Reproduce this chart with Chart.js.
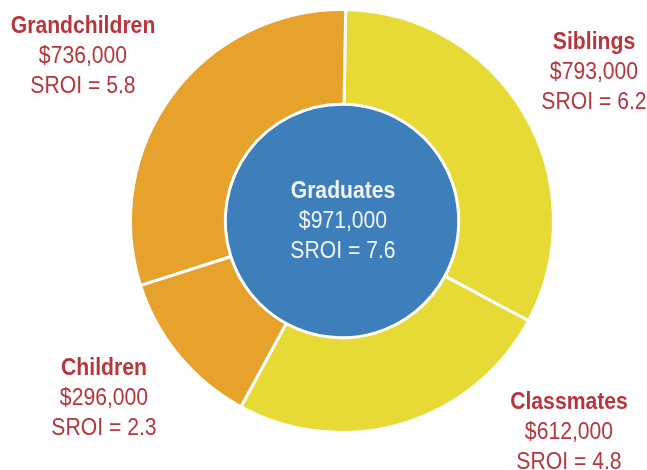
<!DOCTYPE html>
<html>
<head>
<meta charset="utf-8">
<script src="https://cdn.jsdelivr.net/npm/chart.js@4"></script>
<style>
  html, body { margin: 0; padding: 0; background: #fff; }
  #wrap { width: 647px; height: 470px; }
</style>
</head>
<body>
<div id="wrap"><canvas id="sroiChart"></canvas></div>
<script>
// outer ring groups, clockwise from 12 o'clock
const groups = ["Siblings", "Classmates", "Children", "Grandchildren"];
const groupValues = [793000, 612000, 296000, 736000];
const groupSroi = [6.2, 4.8, 2.3, 5.8];

// centre disc
const centerGroup = "Graduates";
const centerValue = 971000;
const centerSroi = 7.6;

const yellow = "#e7da35";
const orange = "#e6a22b";
const blue = "#3d7fba";
const red = "#b6363c";

// first-line baseline of each text block
const labelSpots = {
  Siblings: [594, 49],
  Classmates: [569, 409],
  Children: [104, 375],
  Grandchildren: [83, 33],
  Graduates: [343, 198]
};

const money = v => "$" + v.toLocaleString("en-US");

function drawLine(c, text, x, y, weight, color) {
  c.save();
  c.translate(x, y);
  c.scale(0.92, 1);
  c.font = weight + " 23px 'Liberation Sans', Arial, sans-serif";
  c.fillStyle = color;
  c.textAlign = "center";
  c.textBaseline = "alphabetic";
  c.fillText(text, 0, 0);
  c.restore();
}

const labelPlugin = {
  id: "ringLabels",
  afterDraw(chart) {
    const c = chart.ctx;
    const items = groups.map((g, i) => ({ name: g, value: groupValues[i], sroi: groupSroi[i], color: red }));
    items.push({ name: centerGroup, value: centerValue, sroi: centerSroi, color: "#f0f4f8" });
    items.forEach(it => {
      const [x, y] = labelSpots[it.name];
      drawLine(c, it.name, x, y, "bold", it.color);
      drawLine(c, money(it.value), x, y + 30, "normal", it.color);
      drawLine(c, "SROI = " + it.sroi.toFixed(1), x, y + 60, "normal", it.color);
    });
  }
};

new Chart(document.getElementById("sroiChart"), {
  type: "doughnut",
  data: {
    labels: groups,
    datasets: [
      {
        data: groupValues,
        backgroundColor: [yellow, yellow, orange, orange],
        borderColor: "#ffffff",
        borderWidth: 3,
        weight: 95
      },
      {
        data: [centerValue],
        backgroundColor: [blue],
        borderWidth: 0,
        weight: 117
      }
    ]
  },
  options: {
    responsive: true,
    maintainAspectRatio: false,
    animation: false,
    events: [],
    cutout: 0,
    rotation: 1,
    layout: { padding: { left: 37, right: 0, top: 8, bottom: 36 } },
    plugins: { legend: { display: false }, tooltip: { enabled: false } }
  },
  plugins: [labelPlugin]
});
</script>
</body>
</html>
